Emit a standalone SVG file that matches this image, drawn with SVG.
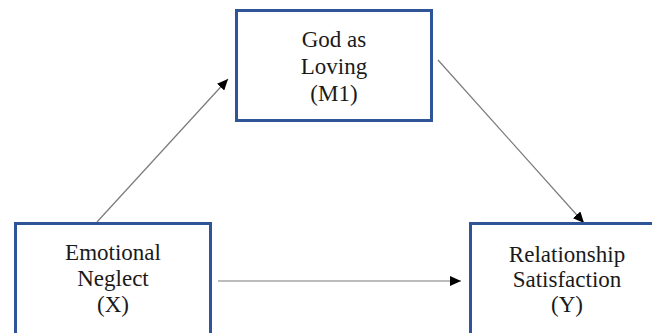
<svg xmlns="http://www.w3.org/2000/svg" width="652" height="333" viewBox="0 0 652 333">
<style>
.box{fill:#fff;stroke:#2F5597;stroke-width:3}
.t{font-family:"Liberation Serif","Times New Roman",serif;font-size:23px;fill:#1a1a1a;text-anchor:middle}
.c{stroke:#7a7a7a;stroke-width:1.2;fill:none;marker-end:url(#ah)}
</style>
<defs>
<marker id="ah" markerUnits="userSpaceOnUse" markerWidth="12" markerHeight="10" refX="11" refY="5" orient="auto">
<path d="M0,0 L11,5 L0,10 z" fill="#000"/>
</marker>
</defs>
<rect width="652" height="333" fill="#fff"/>
<g id="connectors">
<line class="c" x1="97" y1="222" x2="228" y2="79"/>
<line class="c" x1="438" y1="60" x2="584" y2="223"/>
<line class="c" x1="218" y1="281" x2="461" y2="281"/>
</g>
<g id="m1">
<rect class="box" x="236.5" y="10.5" width="195" height="110"/>
<text class="t" x="334" y="47">God as</text>
<text class="t" x="334" y="74">Loving</text>
<text class="t" x="334" y="101">(M1)</text>
</g>
<g id="x">
<rect class="box" x="15.5" y="223.5" width="195" height="115"/>
<text class="t" x="113" y="260">Emotional</text>
<text class="t" x="113" y="286">Neglect</text>
<text class="t" x="113" y="312">(X)</text>
</g>
<g id="y">
<rect class="box" x="470.5" y="223.5" width="195" height="115"/>
<text class="t" x="567" y="262">Relationship</text>
<text class="t" x="567" y="287">Satisfaction</text>
<text class="t" x="567" y="312">(Y)</text>
</g>
</svg>
